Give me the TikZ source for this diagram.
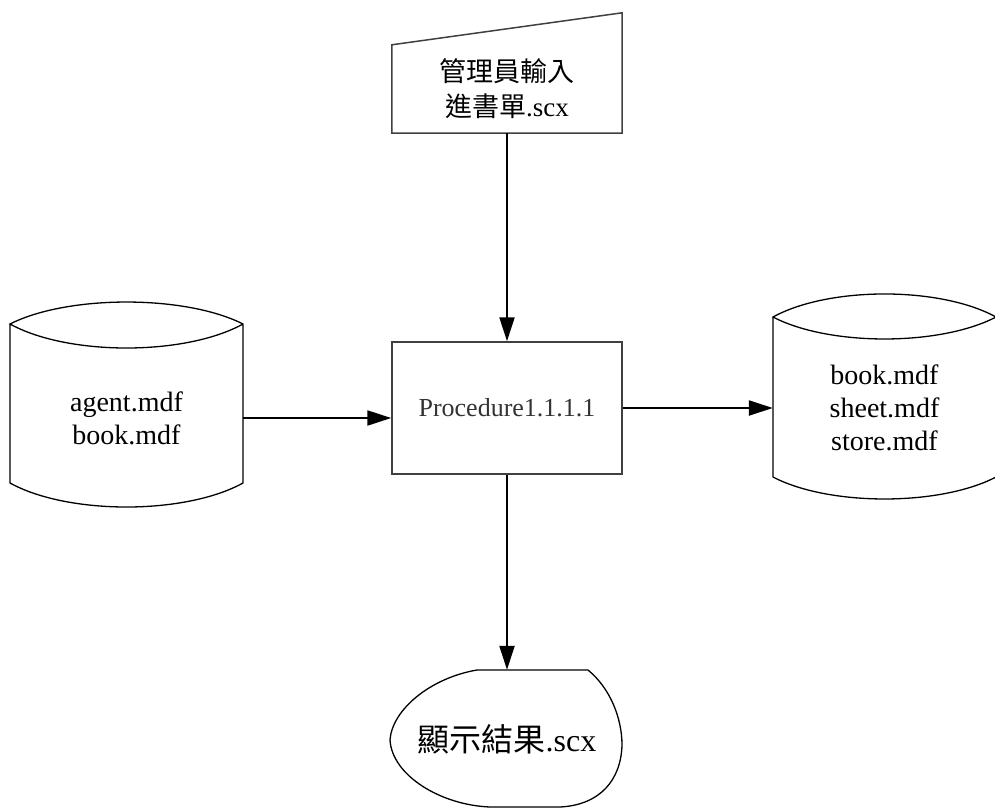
\documentclass[tikz,border=0pt]{standalone}
\usepackage{fontspec}
\setmainfont{Liberation Serif}
\newfontfamily\cjk{Noto Sans CJK TC}
\usepackage{tikz}
\usetikzlibrary{calc,arrows.meta}

\begin{document}
\begin{tikzpicture}[x=1pt,y=-1pt,
    shape line/.style={draw=black!75,line width=1.5pt},
    flow/.style={line width=2.2pt,-{Triangle[length=24pt,width=15pt]}},
    txt/.style={inner sep=0pt,align=center,font=\fontsize{28}{33}\selectfont}]
      \useasboundingbox (0,0) rectangle (995,809);
      % nodes
      \node[txt,minimum width=230pt,minimum height=88pt,font=\fontsize{27}{35}\selectfont] (input) at (507,89)
        {{\cjk 管理員輸入}\\{\cjk 進書單}.scx};
      \node[txt,shape line,minimum width=230pt,minimum height=132pt,text=black!80,font=\fontsize{26}{30}\selectfont] (proc) at (507,408)
        {Procedure1.1.1.1};
      \node[txt,minimum width=233pt] (agentdb) at (126.5,418) {agent.mdf\\book.mdf};
      \node[txt,minimum width=223pt] (storedb) at (884.5,408) {book.mdf\\sheet.mdf\\store.mdf};
      \node[txt,minimum height=138pt,font=\fontsize{32}{36}\selectfont] (result) at (507,739)
        {{\cjk 顯示結果}.scx};
      % outlines
      \draw[shape line] (input.south west) -- (input.south east) -- ($(input.north east)+(0,-32)$)
        -- (input.north west) -- cycle;
      \draw[draw=black,line width=1.3pt] (10,324) -- (10,483)
        .. controls (68,515) and (185,515) .. (243,483) -- (243,324)
        .. controls (185,294.7) and (68,294.7) .. (10,324)
        .. controls (68,356) and (185,356) .. (243,324);
      \draw[draw=black,line width=1.3pt] (773,317) -- (773,477)
        .. controls (829,506.3) and (940,506.3) .. (996,477) -- (996,317)
        .. controls (940,286.3) and (829,286.3) .. (773,317)
        .. controls (829,346.3) and (940,346.3) .. (996,317);
      \draw[draw=black,line width=1.3pt] (477,670) -- (588,670)
        .. controls (610,688) and (622,718) .. (622,745)
        .. controls (621,780) and (600,805) .. (560,807) -- (490,807)
        .. controls (440,805) and (392,775) .. (390,740)
        .. controls (392,710) and (430,678) .. (477,670);
      % connectors
      \draw[flow] (input.south) -- (proc.north);
      \draw[flow] (agentdb.east) -- (agentdb.east -| proc.west);
      \draw[flow] (proc.east) -- (proc.east -| storedb.west);
      \draw[flow] (proc.south) -- (result.north);
\end{tikzpicture}
\end{document}
